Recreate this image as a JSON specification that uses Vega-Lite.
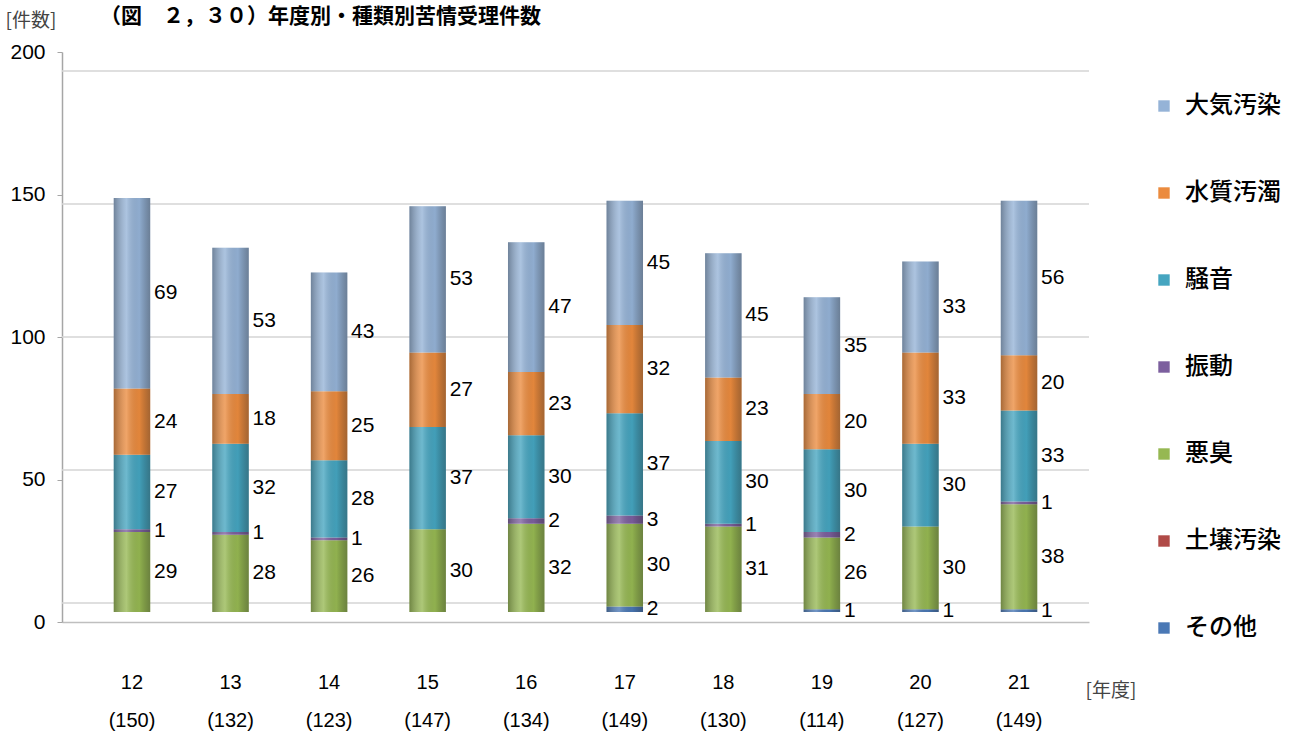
{
  "$schema": "https://vega.github.io/schema/vega-lite/v6.json",
  "autosize": "none",
  "width": 1027,
  "height": 570,
  "padding": {"left": 62, "top": 52, "right": 203, "bottom": 116},
  "background": "white",
  "title": {
    "text": "（図　２，３０）年度別・種類別苦情受理件数",
    "anchor": "start",
    "frame": "group",
    "orient": "top",
    "offset": 4,
    "dx": 38,
    "dy": 20,
    "baseline": "top",
    "font": "Noto Sans CJK JP",
    "fontSize": 21,
    "fontWeight": "bold",
    "color": "#000000"
  },
  "datasets": {
    "grid": [{"v": 0}, {"v": 50}, {"v": 100}, {"v": 150}, {"v": 200}],
    "main": [
      {"year": "12|(150)", "type": "悪臭", "count": 29, "rank": 3},
      {"year": "12|(150)", "type": "振動", "count": 1, "rank": 4},
      {"year": "12|(150)", "type": "騒音", "count": 27, "rank": 5},
      {"year": "12|(150)", "type": "水質汚濁", "count": 24, "rank": 6},
      {"year": "12|(150)", "type": "大気汚染", "count": 69, "rank": 7},
      {"year": "13|(132)", "type": "悪臭", "count": 28, "rank": 3},
      {"year": "13|(132)", "type": "振動", "count": 1, "rank": 4},
      {"year": "13|(132)", "type": "騒音", "count": 32, "rank": 5},
      {"year": "13|(132)", "type": "水質汚濁", "count": 18, "rank": 6},
      {"year": "13|(132)", "type": "大気汚染", "count": 53, "rank": 7},
      {"year": "14|(123)", "type": "悪臭", "count": 26, "rank": 3},
      {"year": "14|(123)", "type": "振動", "count": 1, "rank": 4},
      {"year": "14|(123)", "type": "騒音", "count": 28, "rank": 5},
      {"year": "14|(123)", "type": "水質汚濁", "count": 25, "rank": 6},
      {"year": "14|(123)", "type": "大気汚染", "count": 43, "rank": 7},
      {"year": "15|(147)", "type": "悪臭", "count": 30, "rank": 3},
      {"year": "15|(147)", "type": "騒音", "count": 37, "rank": 5},
      {"year": "15|(147)", "type": "水質汚濁", "count": 27, "rank": 6},
      {"year": "15|(147)", "type": "大気汚染", "count": 53, "rank": 7},
      {"year": "16|(134)", "type": "悪臭", "count": 32, "rank": 3},
      {"year": "16|(134)", "type": "振動", "count": 2, "rank": 4},
      {"year": "16|(134)", "type": "騒音", "count": 30, "rank": 5},
      {"year": "16|(134)", "type": "水質汚濁", "count": 23, "rank": 6},
      {"year": "16|(134)", "type": "大気汚染", "count": 47, "rank": 7},
      {"year": "17|(149)", "type": "その他", "count": 2, "rank": 1},
      {"year": "17|(149)", "type": "悪臭", "count": 30, "rank": 3},
      {"year": "17|(149)", "type": "振動", "count": 3, "rank": 4},
      {"year": "17|(149)", "type": "騒音", "count": 37, "rank": 5},
      {"year": "17|(149)", "type": "水質汚濁", "count": 32, "rank": 6},
      {"year": "17|(149)", "type": "大気汚染", "count": 45, "rank": 7},
      {"year": "18|(130)", "type": "悪臭", "count": 31, "rank": 3},
      {"year": "18|(130)", "type": "振動", "count": 1, "rank": 4},
      {"year": "18|(130)", "type": "騒音", "count": 30, "rank": 5},
      {"year": "18|(130)", "type": "水質汚濁", "count": 23, "rank": 6},
      {"year": "18|(130)", "type": "大気汚染", "count": 45, "rank": 7},
      {"year": "19|(114)", "type": "その他", "count": 1, "rank": 1},
      {"year": "19|(114)", "type": "悪臭", "count": 26, "rank": 3},
      {"year": "19|(114)", "type": "振動", "count": 2, "rank": 4},
      {"year": "19|(114)", "type": "騒音", "count": 30, "rank": 5},
      {"year": "19|(114)", "type": "水質汚濁", "count": 20, "rank": 6},
      {"year": "19|(114)", "type": "大気汚染", "count": 35, "rank": 7},
      {"year": "20|(127)", "type": "その他", "count": 1, "rank": 1},
      {"year": "20|(127)", "type": "悪臭", "count": 30, "rank": 3},
      {"year": "20|(127)", "type": "騒音", "count": 30, "rank": 5},
      {"year": "20|(127)", "type": "水質汚濁", "count": 33, "rank": 6},
      {"year": "20|(127)", "type": "大気汚染", "count": 33, "rank": 7},
      {"year": "21|(149)", "type": "その他", "count": 1, "rank": 1},
      {"year": "21|(149)", "type": "悪臭", "count": 38, "rank": 3},
      {"year": "21|(149)", "type": "振動", "count": 1, "rank": 4},
      {"year": "21|(149)", "type": "騒音", "count": 33, "rank": 5},
      {"year": "21|(149)", "type": "水質汚濁", "count": 20, "rank": 6},
      {"year": "21|(149)", "type": "大気汚染", "count": 56, "rank": 7}
    ]
  },
  "layer": [
    {
      "data": {"name": "grid"},
      "mark": {"type": "rule", "color": "#D4D4D4", "strokeWidth": 1.5},
      "encoding": {
        "y": {"field": "v", "type": "quantitative", "scale": {"domain": [0, 200], "range": [551, 19], "nice": false, "zero": true}, "axis": null}
      }
    },
    {
      "data": {"name": "grid"},
      "mark": {"type": "rule", "opacity": 0},
      "encoding": {
        "y": {
          "field": "v", "type": "quantitative",
          "scale": {"domain": [0, 200], "nice": false},
          "axis": {
            "orient": "left",
            "values": [0, 50, 100, 150, 200],
            "grid": false,
            "domainColor": "#A6A6A6",
            "domainWidth": 1.5,
            "tickColor": "#A6A6A6",
            "tickSize": 5,
            "labelFont": "Liberation Sans",
            "labelFontSize": 21,
            "labelColor": "#000000",
            "labelPadding": 12,
            "title": "[件数]",
            "titleAngle": 0,
            "titleX": -57,
            "titleY": -32,
            "titleAlign": "left",
            "titleBaseline": "middle",
            "titleFont": "Noto Sans CJK JP",
            "titleFontSize": 19,
            "titleFontWeight": "normal",
            "titleColor": "#444444"
          }
        }
      }
    },
    {
      "data": {"name": "main"},
      "encoding": {
        "x": {
          "field": "year", "type": "nominal", "sort": null,
          "scale": {"paddingInner": 0.63, "paddingOuter": 0.525},
          "axis": {
            "labelAngle": 0,
            "labelExpr": "split(datum.value, '|')",
            "labelFont": "Liberation Sans",
            "labelFontSize": 20,
            "labelLineHeight": 38,
            "labelColor": "#000000",
            "labelPadding": 50,
            "ticks": false,
            "domainColor": "#BFBFBF",
            "domainWidth": 1.5,
            "title": "[年度]",
            "titleX": 1023,
            "titleY": 68,
            "titleAlign": "left",
            "titleBaseline": "middle",
            "titleFont": "Noto Sans CJK JP",
            "titleFontSize": 19,
            "titleFontWeight": "normal",
            "titleColor": "#444444"
          }
        }
      },
      "layer": [
        {
          "mark": {"type": "bar"},
          "encoding": {
            "y": {"field": "count", "type": "quantitative", "stack": "zero", "scale": {"domain": [0, 200], "range": [560, 8], "nice": false}, "axis": null},
            "order": {"field": "rank", "type": "quantitative", "sort": "ascending"},
            "color": {
              "field": "type", "type": "nominal",
              "scale": {
                "domain": ["大気汚染", "水質汚濁", "騒音", "振動", "悪臭", "土壌汚染", "その他"],
                "range": ["#95B3D7", "#EB8B3E", "#45A5C0", "#7C5F9E", "#96B852", "#B04A47", "#4A78B5"]
              },
              "legend": {
                "orient": "none",
                "legendX": 1090,
                "legendY": 42,
                "title": null,
                "symbolType": "square",
                "symbolSize": 130,
                "symbolStrokeWidth": 0,
                "labelFont": "Noto Sans CJK JP",
                "labelFontSize": 24,
                "labelFontWeight": 500,
                "labelColor": "#000000",
                "labelOffset": 9,
                "rowPadding": 63
              }
            }
          }
        },
        {
          "mark": {
            "type": "bar",
            "fill": {
              "gradient": "linear", "x1": 0, "x2": 1, "y1": 0, "y2": 0,
              "stops": [
                {"offset": 0, "color": "rgba(40,40,40,0.35)"},
                {"offset": 0.35, "color": "rgba(255,255,255,0.22)"},
                {"offset": 0.7, "color": "rgba(0,0,0,0.04)"},
                {"offset": 1, "color": "rgba(30,30,30,0.35)"}
              ]
            }
          },
          "encoding": {
            "y": {"field": "count", "type": "quantitative", "stack": "zero"},
            "order": {"field": "rank", "type": "quantitative", "sort": "ascending"},
            "detail": {"field": "type"}
          }
        },
        {
          "transform": [
            {"stack": "count", "groupby": ["year"], "sort": [{"field": "rank", "order": "ascending"}], "as": ["c0", "c1"]},
            {"calculate": "(datum.c0 + datum.c1) / 2", "as": "mid"}
          ],
          "mark": {"type": "text", "align": "left", "baseline": "middle", "dx": 22, "font": "Liberation Sans", "fontSize": 21, "color": "#000000"},
          "encoding": {
            "y": {"field": "mid", "type": "quantitative"},
            "text": {"field": "count", "type": "quantitative"}
          }
        }
      ]
    }
  ],
  "resolve": {"scale": {"y": "independent"}},
  "config": {"view": {"stroke": null}}
}
